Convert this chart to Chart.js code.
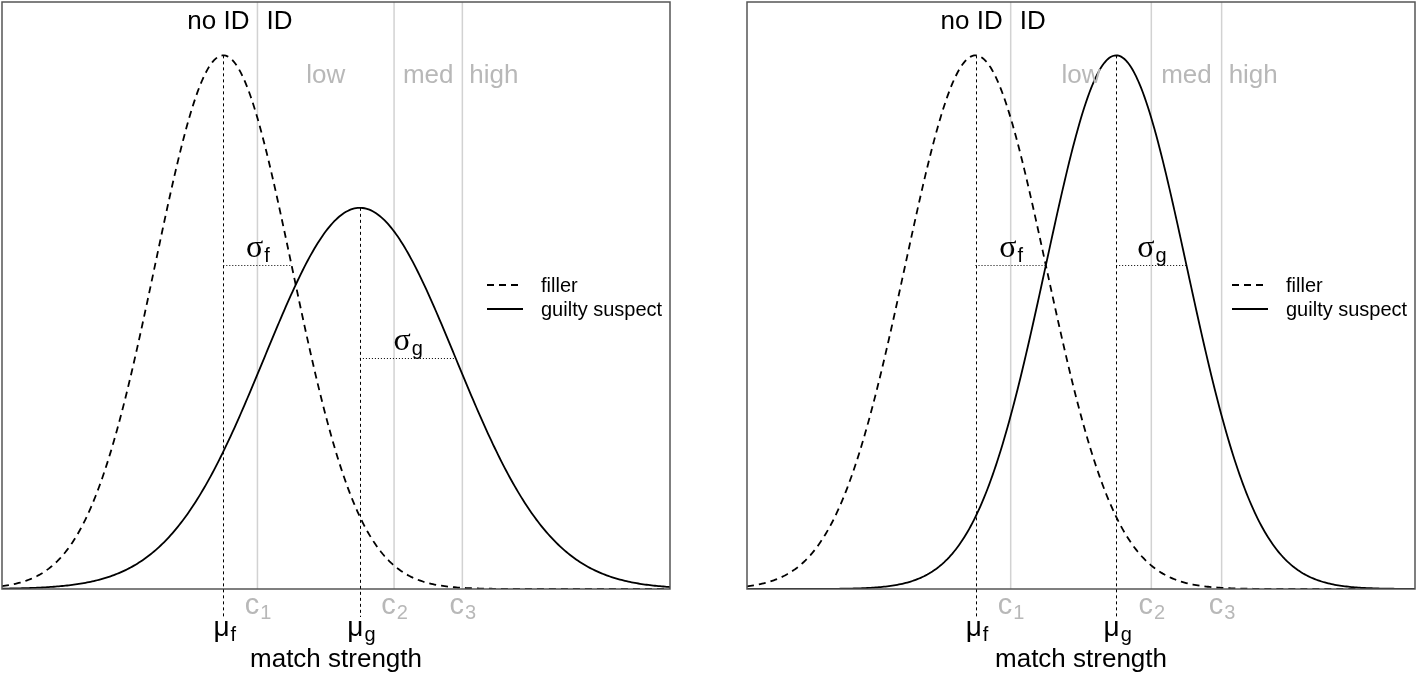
<!DOCTYPE html>
<html>
<head>
<meta charset="utf-8">
<script src="https://cdn.jsdelivr.net/npm/chart.js@4.4.1/dist/chart.umd.min.js"></script>
<style>
  body { margin: 0; background: #fff; }
  #wrap { position: relative; width: 1418px; height: 677px; }
  .panel { position: absolute; top: 0; width: 709px; height: 677px; }
</style>
</head>
<body>
<div id="wrap">
  <div class="panel" style="left:0"><canvas id="leftChart" width="709" height="677"></canvas></div>
  <div class="panel" style="left:709px"><canvas id="rightChart" width="709" height="677"></canvas></div>
</div>
<script>
// model values (filler, guilty suspect)
const seriesLabels = ['filler', 'guilty suspect'];
const means = [0, 2];
const sdsLeft = [1, 1.4];
const sdsRight = [1, 1];
const criteria = [0.5, 2.5, 3.5];
const criteriaSubs = ['1', '2', '3'];
const confidenceLabels = ['low', 'med', 'high'];
const decisionLabels = ['no ID', 'ID'];
const meanSubs = ['f', 'g'];
const xRangeLeft = [-3.24, 6.54];
const xRangeRight = [-3.25, 6.25];

const SANS = '"Liberation Sans", Arial, sans-serif';
const SERIF = '"Liberation Serif", "Times New Roman", serif';
const GREY_TXT = '#b8b8b8';
const GREY_LINE = '#d2d2d2';

function dnorm(x, m, s) {
  return Math.exp(-0.5 * ((x - m) / s) ** 2) / (s * Math.sqrt(2 * Math.PI));
}

function curve(range, m, s) {
  const pts = [];
  const n = 400;
  for (let i = 0; i <= n; i++) {
    const x = range[0] + (range[1] - range[0]) * i / n;
    pts.push({x: x, y: dnorm(x, m, s)});
  }
  return pts;
}

// text with a lowered subscript, centred (or left aligned) on x
function subText(ctx, main, sub, x, y, mainFont, subFont, color, align) {
  ctx.save();
  ctx.fillStyle = color;
  ctx.textBaseline = 'alphabetic';
  ctx.textAlign = 'left';
  ctx.font = mainFont;
  const w1 = ctx.measureText(main).width;
  ctx.font = subFont;
  const w2 = ctx.measureText(sub).width;
  let x0 = align === 'left' ? x : x - (w1 + w2) / 2;
  ctx.font = mainFont;
  ctx.fillText(main, x0, y);
  ctx.font = subFont;
  ctx.fillText(sub, x0 + w1 + 1, y + 5);
  ctx.restore();
}

const decorations = {
  id: 'decorations',
  beforeDatasetsDraw(chart) {
    const {ctx, chartArea: a, scales: {x}} = chart;
    ctx.save();
    ctx.strokeStyle = GREY_LINE;
    ctx.lineWidth = 1.5;
    criteria.forEach(c => {
      const px = x.getPixelForValue(c);
      ctx.beginPath();
      ctx.moveTo(px, a.top);
      ctx.lineTo(px, a.bottom);
      ctx.stroke();
    });
    ctx.restore();
  },
  afterDatasetsDraw(chart, args, opts) {
    const {ctx, chartArea: a, scales: {x, y}} = chart;
    const sds = opts.sds;
    ctx.save();

    // box
    ctx.strokeStyle = '#555';
    ctx.lineWidth = 1.5;
    ctx.strokeRect(a.left, a.top, a.right - a.left, a.bottom - a.top);

    // mean lines, reaching below the axis
    ctx.strokeStyle = '#000';
    ctx.lineWidth = 1;
    ctx.setLineDash([3, 3]);
    means.forEach((m, i) => {
      const px = Math.round(x.getPixelForValue(m)) + 0.5;
      ctx.beginPath();
      ctx.moveTo(px, y.getPixelForValue(dnorm(m, m, sds[i])));
      ctx.lineTo(px, a.bottom + 28);
      ctx.stroke();
    });

    // sd lines
    ctx.setLineDash([1, 2]);
    means.forEach((m, i) => {
      const py = Math.round(y.getPixelForValue(dnorm(m + sds[i], m, sds[i]))) + 0.5;
      ctx.beginPath();
      ctx.moveTo(x.getPixelForValue(m), py);
      ctx.lineTo(x.getPixelForValue(m + sds[i]), py);
      ctx.stroke();
    });
    ctx.setLineDash([]);

    // sd labels
    means.forEach((m, i) => {
      const py = y.getPixelForValue(dnorm(m + sds[i], m, sds[i]));
      const px = x.getPixelForValue(m + sds[i] / 2);
      subText(ctx, '\u03c3', meanSubs[i], px, py - 8, '32px ' + SERIF, '20px ' + SANS, '#000');
    });

    // decision labels
    const c1 = x.getPixelForValue(criteria[0]);
    ctx.font = '26px ' + SANS;
    ctx.fillStyle = '#000';
    ctx.textBaseline = 'alphabetic';
    ctx.textAlign = 'right';
    ctx.fillText(decisionLabels[0], c1 - 8, a.top + 27);
    ctx.textAlign = 'left';
    ctx.fillText(decisionLabels[1], c1 + 9, a.top + 27);

    // confidence labels
    ctx.fillStyle = GREY_TXT;
    const cp = criteria.map(c => x.getPixelForValue(c));
    ctx.textAlign = 'center';
    ctx.fillText(confidenceLabels[0], (cp[0] + cp[1]) / 2, a.top + 81);
    ctx.fillText(confidenceLabels[1], (cp[1] + cp[2]) / 2, a.top + 81);
    ctx.textAlign = 'left';
    ctx.fillText(confidenceLabels[2], cp[2] + 7, a.top + 81);

    // criterion tick labels
    cp.forEach((px, i) => {
      subText(ctx, 'c', criteriaSubs[i], px, a.bottom + 25, '29px ' + SANS, '20px ' + SANS, GREY_TXT);
    });

    // mean tick labels
    means.forEach((m, i) => {
      subText(ctx, '\u03bc', meanSubs[i], x.getPixelForValue(m) + 1, a.bottom + 47, '28px ' + SANS, '20px ' + SANS, '#000');
    });

    // axis title
    ctx.fillStyle = '#000';
    ctx.font = '26px ' + SANS;
    ctx.textAlign = 'center';
    ctx.fillText('match strength', (a.left + a.right) / 2, a.bottom + 78);

    // legend
    const lx = a.right - 183;
    ctx.lineWidth = 1.8;
    ctx.strokeStyle = '#000';
    [283, 307].forEach((dy, i) => {
      ctx.setLineDash(i === 0 ? [7, 5] : []);
      ctx.beginPath();
      ctx.moveTo(lx, a.top + dy);
      ctx.lineTo(lx + 36, a.top + dy);
      ctx.stroke();
    });
    ctx.setLineDash([]);
    ctx.font = '20px ' + SANS;
    ctx.textAlign = 'left';
    ctx.fillText(seriesLabels[0], a.right - 129, a.top + 290);
    ctx.fillText(seriesLabels[1], a.right - 129, a.top + 314);

    ctx.restore();
  }
};

function makeChart(id, sds, range, padding) {
  const ymax = 1.1 * Math.max(dnorm(0, 0, sds[0]), dnorm(0, 0, sds[1]));
  return new Chart(document.getElementById(id), {
    type: 'line',
    data: {
      datasets: [{
        label: seriesLabels[0],
        data: curve(range, means[0], sds[0]),
        borderColor: '#000',
        borderWidth: 1.8,
        borderDash: [7, 5],
        pointRadius: 0,
        tension: 0,
        fill: false
      }, {
        label: seriesLabels[1],
        data: curve(range, means[1], sds[1]),
        borderColor: '#000',
        borderWidth: 1.8,
        pointRadius: 0,
        tension: 0,
        fill: false
      }]
    },
    options: {
      responsive: false,
      animation: false,
      devicePixelRatio: 1,
      layout: {padding: padding},
      scales: {
        x: {type: 'linear', min: range[0], max: range[1], display: false},
        y: {min: 0, max: ymax, display: false}
      },
      plugins: {
        legend: {display: false},
        tooltip: {enabled: false},
        decorations: {sds: sds}
      }
    },
    plugins: [decorations]
  });
}

makeChart('leftChart', sdsLeft, xRangeLeft, {left: 2, right: 39, top: 2, bottom: 88});
makeChart('rightChart', sdsRight, xRangeRight, {left: 38, right: 3, top: 2, bottom: 88});
</script>
</body>
</html>
